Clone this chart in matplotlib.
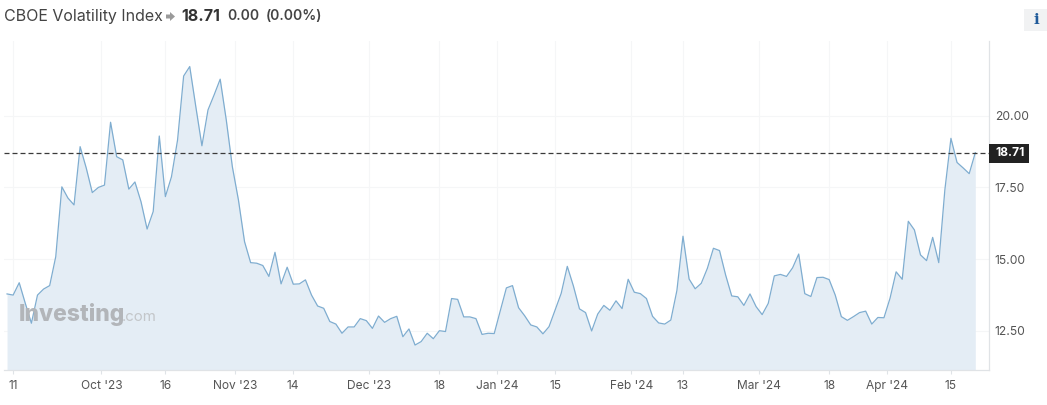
import matplotlib
matplotlib.use('Agg')
import matplotlib.pyplot as plt
from matplotlib.patches import Polygon, Rectangle

# daily closes
vix = [13.79, 13.75, 14.18, 13.46, 12.77, 13.75, 13.96, 14.08, 15.09, 17.52,
       17.13, 16.89, 18.92, 18.18, 17.32, 17.50, 17.58, 19.77, 18.57, 18.46,
       17.44, 17.69, 17.00, 16.05, 16.66, 19.29, 17.18, 17.87, 19.15, 21.38,
       21.71, 20.31, 18.95, 20.20, 20.72, 21.27, 19.85, 18.22, 17.06, 15.61,
       14.88, 14.86, 14.78, 14.40, 15.24, 14.14, 14.72, 14.13, 14.14, 14.28,
       13.75, 13.37, 13.29, 12.83, 12.74, 12.42, 12.64, 12.64, 12.93, 12.86,
       12.59, 13.02, 12.80, 12.93, 13.01, 12.30, 12.57, 12.01, 12.13, 12.42,
       12.23, 12.51, 12.48, 13.63, 13.60, 12.99, 12.99, 12.93, 12.38, 12.42,
       12.41, 13.20, 14.00, 14.08, 13.31, 13.03, 12.71, 12.64, 12.40, 12.65,
       13.23, 13.81, 14.75, 14.07, 13.27, 13.14, 12.50, 13.09, 13.39, 13.22,
       13.55, 13.28, 14.30, 13.85, 13.80, 13.63, 13.01, 12.78, 12.74, 12.88,
       13.91, 15.80, 14.31, 13.97, 14.16, 14.68, 15.38, 15.30, 14.45, 13.72,
       13.69, 13.39, 13.79, 13.35, 13.07, 13.46, 14.42, 14.47, 14.40, 14.70,
       15.18, 13.80, 13.70, 14.36, 14.37, 14.29, 13.75, 13.00, 12.87, 13.00,
       13.14, 13.19, 12.74, 12.97, 12.96, 13.64, 14.56, 14.30, 16.32, 16.02,
       15.15, 14.95, 15.76, 14.88, 17.41, 19.21, 18.37, 18.18, 17.98, 18.71]
last_price = 18.71

x_tick_pos = [1, 15.5, 26, 37.5, 47, 59.5, 71, 80.5, 90, 102.5, 111, 123.5, 135, 144.5, 155]
x_tick_labels = ['11', "Oct '23", '16', "Nov '23", '14', "Dec '23", '18', "Jan '24", '15',
                 "Feb '24", '13', "Mar '24", '18', "Apr '24", '15']
y_ticks = [12.5, 15, 17.5, 20]
y_tick_labels = ['12.50', '15.00', '17.50', '20.00']

W, H = 1047, 405
plt.rcParams['font.family'] = ['Inter', 'DejaVu Sans']
fig = plt.figure(figsize=(W / 100, H / 100), dpi=100)


def fx(x):
    return x / W


def fy(y):
    return 1 - y / H


# plot area in pixels: x 4..989, y 41..370
ax = fig.add_axes([fx(4), fy(370.3), fx(985.3), (370.3 - 41) / H])
ax.set_xlim(-0.5, 161.3)
ax.set_ylim(11.13, 22.6)

days = list(range(len(vix)))
ax.fill_between(days, vix, 11.13, color='#e4edf5', lw=0, zorder=2)
ax.plot(days, vix, color='#7fadd0', lw=0.9, zorder=3)

ax.set_xticks(x_tick_pos)
ax.set_xticklabels(x_tick_labels)
ax.set_yticks(y_ticks)
ax.set_yticklabels(y_tick_labels)
ax.yaxis.tick_right()
ax.grid(True, color='#f5f6f7', lw=0.8, zorder=1)
ax.set_axisbelow(True)
ax.tick_params(axis='x', length=3, width=0.8, color='#dfe3e7', labelcolor='#555555',
               labelsize=8.6, pad=4)
ax.tick_params(axis='y', length=0, labelcolor='#555555', labelsize=8.7, pad=4)
for s in ['top', 'left']:
    ax.spines[s].set_visible(False)
for s in ['right', 'bottom']:
    ax.spines[s].set_color('#e0e3e6')
    ax.spines[s].set_linewidth(0.9)

# last price line and tag
ax.axhline(last_price, color='#3a3a3a', lw=0.9, dashes=(4, 2.4), zorder=4)
fig.add_artist(Rectangle((fx(989), fy(162.5)), 40 / W, 18.5 / H, color='#222222', lw=0))
fig.text(fx(1010), fy(153), '18.71', color='white', fontsize=8.7, fontweight='bold',
         ha='center', va='center')

# header
fig.text(fx(4.5), fy(16.5), 'CBOE Volatility Index', color='#444444', fontsize=11.5, va='center')
arrow = [(166, 14.5), (170, 14.5), (170, 12), (175, 16.5), (170, 21), (170, 18.5), (166, 18.5)]
fig.add_artist(Polygon([(fx(a), fy(b)) for a, b in arrow], color='#9a9a9a', lw=0))
fig.text(fx(181), fy(16.5), '18.71', color='#333333', fontsize=11.5, fontweight='bold', va='center')
fig.text(fx(227), fy(16.5), '0.00', color='#444444', fontsize=10, fontweight='semibold', va='center')
fig.text(fx(266), fy(16.5), '(0.00%)', color='#444444', fontsize=10, fontweight='semibold', va='center')

# info button
fig.add_artist(Rectangle((fx(1024), fy(31)), 23 / W, 22 / H, color='#f1f2f3', lw=0))
fig.text(fx(1036), fy(20), 'i', color='#1f5a99', fontsize=11, fontweight='bold',
         family='DejaVu Serif', ha='center', va='center')

# watermark
fig.text(fx(19), fy(315), 'Investing', color='#b2b5b9', fontsize=16.5, fontweight='heavy',
         va='center', zorder=6)
fig.text(fx(122), fy(317), '.com', color='#c3c6c9', fontsize=10.8, va='center', zorder=6)

fig.savefig('out.png', dpi=100)
